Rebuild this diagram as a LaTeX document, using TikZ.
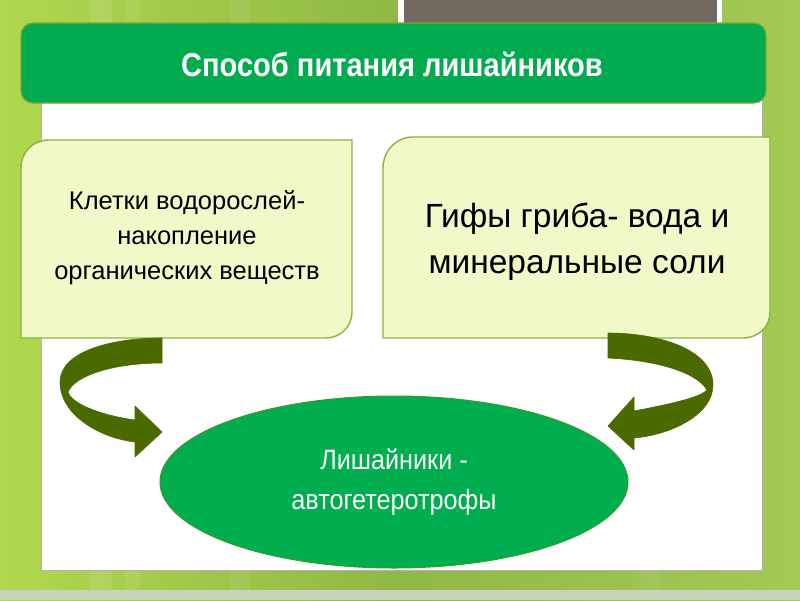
\documentclass[tikz,border=0pt]{standalone}
\usepackage{fontspec}
\setmainfont{Liberation Sans}
\newfontfamily\titlefont[FakeStretch=0.88]{Liberation Sans}
\newfontfamily\ellfont[FakeStretch=0.9]{Liberation Sans}
\usetikzlibrary{shapes.geometric}
\definecolor{bgL}{HTML}{B0D84E}
\definecolor{bgM}{HTML}{8FB845}
\definecolor{bgR}{HTML}{A3CA55}
\definecolor{topgray}{HTML}{726A5E}
\definecolor{titlegreen}{HTML}{00AB50}
\definecolor{olivebd}{HTML}{7FA832}
\definecolor{boxfill}{HTML}{F1F9C9}
\definecolor{boxbd}{HTML}{8DB53C}
\definecolor{arrowc}{HTML}{4A6A00}
\definecolor{ellfill}{HTML}{00AD4F}
\definecolor{ellbd}{HTML}{3C9A2C}
\definecolor{bottomband}{HTML}{C9D3BC}
\tikzset{
  boxshape/.style={fill=boxfill, draw=boxbd, line width=1.4pt},
  boxtext/.style={align=center, text=black, inner sep=0pt},
  arrowshape/.style={fill=arrowc, draw=arrowc, line width=0.6pt, line join=round},
}
\begin{document}
\begin{tikzpicture}[x=1pt,y=-1pt]
\useasboundingbox (0,0) rectangle (800,600);
% background
\fill[left color=bgL, right color=bgR, middle color=bgM] (0,0) rectangle (800,600);
\fill[white, opacity=0.10] (90,0) rectangle (112,600);
\fill[white, opacity=0.08] (125,0) rectangle (140,600);
\fill[white, opacity=0.07] (230,0) rectangle (250,600);
\fill[white, opacity=0.06] (640,0) rectangle (660,600);
\fill[bottomband] (0,590) rectangle (800,600);
% top gray rectangle
\fill[white] (398,0) rectangle (722,32);
\fill[topgray] (404,0) rectangle (717,32);
% white panel
\fill[white, draw=gray!60, line width=0.8pt] (41,95) rectangle (762,570);
% title bar
\draw[fill=titlegreen, draw=olivebd, line width=1.2pt, rounded corners=12pt] (21,23) rectangle (766,103);
\node[text=white, inner sep=0pt, font={\titlefont\bfseries\fontsize{33}{38}\selectfont}] (title) at (392,64) {Способ питания лишайников};
% left box
\draw[boxshape] (21,338) -- (21,168) .. controls (21,152) and (33,140) .. (49,140) -- (352,140) -- (352,312) .. controls (352,327) and (340,338) .. (326,338) -- cycle;
\node[boxtext, font={\fontsize{25.5}{35}\selectfont}] (lefttext) at (187,238) {Клетки водорослей-\\накопление\\органических веществ};
% right box
\draw[boxshape] (383,338) -- (383,168) .. controls (383,151) and (396,137) .. (413,137) -- (770,137) -- (770,312) .. controls (770,327) and (758,338) .. (743,338) -- cycle;
\node[boxtext, font={\fontsize{33.5}{46}\selectfont}] (righttext) at (577,242) {Гифы гриба- вода и\\минеральные соли};
% arrows
\fill[arrowshape] (162,338) .. controls (110,338) and (60,352) .. (60,382)
  .. controls (60,415) and (100,438) .. (135,442) -- (135,457) -- (162,432) -- (135,406) -- (135,420)
  .. controls (105,416) and (72,405) .. (68,392) .. controls (75,375) and (115,363) .. (162,363) -- cycle;
\fill[arrowshape] (608,333) .. controls (660,333) and (713,350) .. (713,385)
  .. controls (713,415) and (670,435) .. (634,438) -- (634,450) -- (608,426) -- (634,397) -- (634,411)
  .. controls (665,405) and (700,398) .. (707,390) .. controls (695,370) and (650,360) .. (608,358) -- cycle;
% ellipse
\node[ellipse, fill=ellfill, draw=ellbd, line width=1pt, minimum width=468pt, minimum height=172pt,
  align=center, text=white, inner sep=0pt, font={\ellfont\fontsize{28}{40}\selectfont}] (ell) at (394,482)
  {Лишайники -\\автогетеротрофы};
\end{tikzpicture}
\end{document}
